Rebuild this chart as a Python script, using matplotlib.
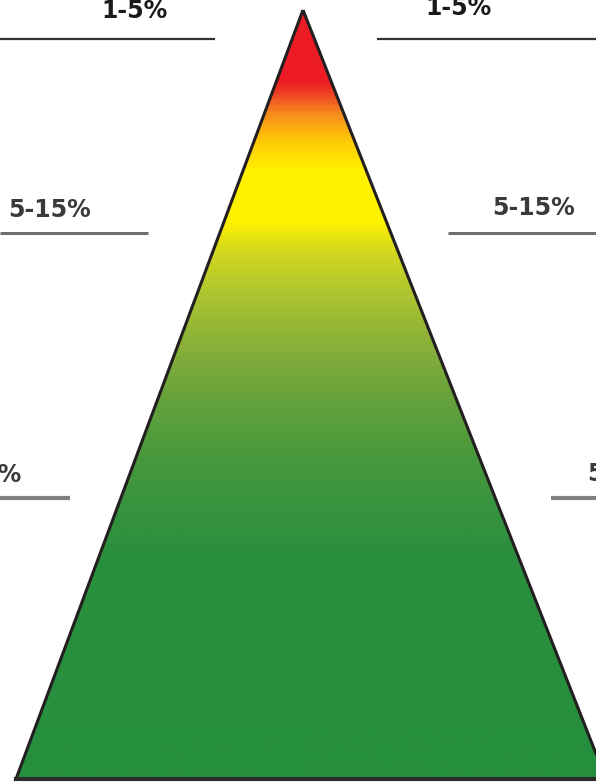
import numpy as np
import matplotlib
matplotlib.use("Agg")
import matplotlib.pyplot as plt
from matplotlib.colors import LinearSegmentedColormap
from matplotlib.patches import Polygon

# gradient stops, pixel rows from apex (10) to base (779)
grad_rows = [10, 80, 95, 115, 140, 170, 220, 250, 300, 350, 400, 450, 500, 560, 779]
grad_colors = ["#ED1C24", "#ED1C24", "#F04E23", "#F7941D", "#FFCB05", "#FFF200",
               "#FFF200", "#D4D81E", "#A8C232", "#85AE3A", "#66A23C", "#4B9A3D",
               "#3A943E", "#2A8F3E", "#268F3D"]

left_labels = ["1-5%", "5-15%", "15-50%"]
right_labels = ["1-5%", "5-15%", "50-80%"]

W, H = 596, 783
apex = (303, 10)
base_l = (16, 779)
base_r = (606, 779)

fig = plt.figure(figsize=(W / 100, H / 100), dpi=100)
ax = fig.add_axes([0, 0, 1, 1])
ax.set_xlim(0, W)
ax.set_ylim(H, 0)
ax.axis("off")

pos = [(r - grad_rows[0]) / (grad_rows[-1] - grad_rows[0]) for r in grad_rows]
cmap = LinearSegmentedColormap.from_list("pyr", list(zip(pos, grad_colors)))
grad = np.linspace(0, 1, 400).reshape(-1, 1)
im = ax.imshow(grad, cmap=cmap, extent=[0, W, base_l[1], apex[1]],
               aspect="auto", origin="upper", zorder=1)
tri = Polygon([apex, base_l, base_r], closed=True, facecolor="none",
              edgecolor="#231F20", lw=2.2, joinstyle="miter", zorder=3)
ax.add_patch(tri)
im.set_clip_path(tri)
ax.plot([base_l[0], W], [base_l[1], base_r[1]], color="#2b2b2b", lw=3, zorder=4)

# label lines
line_y = [39, 233, 498]
left_end = [215, 148, 70]
right_start = [377, 448, 551]
line_col = ["#333333", "#6d6e70", "#808080"]
line_w = [1.6, 2.2, 3.0]
for i in range(3):
    ax.plot([0, left_end[i]], [line_y[i], line_y[i]], color=line_col[i],
            lw=line_w[i], solid_capstyle="butt")
    ax.plot([right_start[i], W], [line_y[i], line_y[i]], color=line_col[i],
            lw=line_w[i], solid_capstyle="butt")

# labels
lx = [134, 50, 22]
ly = [11, 210, 475]
rx = [458, 534, 587]
ry = [8, 208, 474]
lha = ["center", "center", "right"]
rha = ["center", "center", "left"]
txt_col = ["#1a1a1a", "#3a3a3a", "#3a3a3a"]
for i in range(3):
    ax.text(lx[i], ly[i], left_labels[i], ha=lha[i], va="center",
            fontsize=17, fontweight="bold", color=txt_col[i])
    ax.text(rx[i], ry[i], right_labels[i], ha=rha[i], va="center",
            fontsize=17, fontweight="bold", color=txt_col[i])

fig.savefig("out.png", dpi=100)
